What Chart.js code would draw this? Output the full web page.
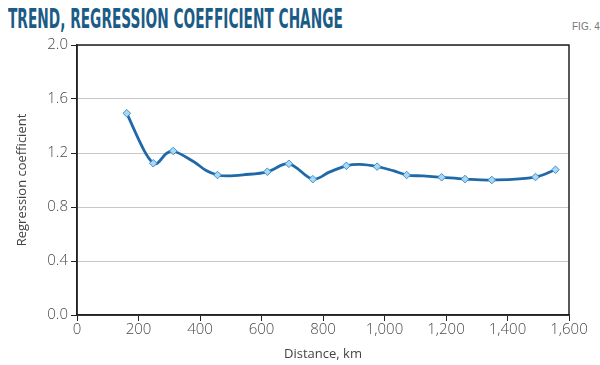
<!DOCTYPE html>
<html>
<head>
<meta charset="utf-8">
<script src="https://cdn.jsdelivr.net/npm/chart.js@4.4.0/dist/chart.umd.min.js"></script>
<style>
  html, body { margin: 0; padding: 0; background: #fff; }
  #wrap { position: relative; width: 600px; height: 365px; }
  #title {
    position: absolute; left: 8px; top: 3px;
    font-family: "Liberation Sans Narrow", "DejaVu Sans Condensed", sans-serif;
    font-weight: bold; font-size: 27px; color: #1b5c86;
    white-space: nowrap; transform-origin: 0 0;
  }
  #fig {
    position: absolute; left: 572px; top: 21px;
    font-family: "Liberation Sans Narrow", sans-serif;
    font-size: 10px; color: #777;
  }
  canvas { position: absolute; left: 0; top: 0; }
</style>
</head>
<body>
<div id="wrap">
  <div id="title">TREND, REGRESSION COEFFICIENT CHANGE</div>
  <div id="fig">FIG. 4</div>
  <canvas id="myChart" width="600" height="365"></canvas>
</div>
<script>
// marked readings (diamonds)
const markerDistance = [162, 248, 313, 457, 619, 689, 767, 876, 976, 1072, 1186, 1262, 1349, 1491, 1556];
const markerValue = [1.494, 1.124, 1.215, 1.037, 1.061, 1.12, 1.006, 1.105, 1.099, 1.037, 1.02, 1.007, 1.0, 1.022, 1.076];

// smoothed trend curve
const curveDistance = [162, 218, 248, 262, 290, 313, 380, 420, 457, 490, 540, 619, 689, 767, 822, 876, 920, 976, 1028, 1072, 1125, 1186, 1262, 1349, 1491, 1556];
const curveValue = [1.494, 1.22, 1.124, 1.125, 1.195, 1.215, 1.135, 1.07, 1.037, 1.03, 1.038, 1.061, 1.12, 1.006, 1.06, 1.105, 1.115, 1.099, 1.069, 1.037, 1.03, 1.02, 1.007, 1.0, 1.022, 1.076];

const xTicks = [0, 200, 400, 600, 800, 1000, 1200, 1400, 1600];
const yTicks = [0, 0.4, 0.8, 1.2, 1.6, 2.0];

// squeeze the title to the width it has in the picture
const title = document.getElementById('title');
title.style.transform = 'scaleX(' + (335 / title.offsetWidth) + ')';

const tickFont = { family: '"Open Sans", sans-serif', size: 15, weight: 300 };

const frame = {
  id: 'frame',
  afterDatasetsDraw(chart) {
    const a = chart.chartArea;
    const c = chart.ctx;
    c.save();
    c.strokeStyle = '#222';
    c.lineWidth = 1.5;
    c.strokeRect(a.left, a.top, a.right - a.left, a.bottom - a.top);
    c.restore();
  }
};

const ctx = document.getElementById('myChart');
new Chart(ctx, {
  type: 'scatter',
  data: {
    datasets: [{
      label: 'markers',
      data: markerDistance.map((d, i) => ({ x: d, y: markerValue[i] })),
      showLine: false,
      pointStyle: 'rectRot',
      pointRadius: 3.8,
      backgroundColor: '#a9d8f3',
      borderColor: '#3f8fcd',
      borderWidth: 1,
      order: 0
    }, {
      label: 'trend',
      data: curveDistance.map((d, i) => ({ x: d, y: curveValue[i] })),
      showLine: true,
      tension: 0.35,
      pointRadius: 0,
      borderColor: '#1f69a9',
      borderWidth: 2.8,
      order: 1
    }]
  },
  plugins: [frame],
  options: {
    responsive: false,
    animation: false,
    layout: { padding: { top: 45, right: 31, left: 0, bottom: 0 } },
    plugins: {
      legend: { display: false },
      tooltip: { enabled: false }
    },
    scales: {
      x: {
        type: 'linear',
        min: 0, max: 1600,
        afterBuildTicks: s => { s.ticks = xTicks.map(v => ({ value: v })); },
        afterFit: s => { s.height = 50; },
        border: { color: '#222', width: 1.5 },
        grid: { drawOnChartArea: false, tickColor: '#222', tickLength: 6 },
        ticks: {
          color: '#4a4a4a', font: tickFont, padding: 0, maxRotation: 0,
          callback: v => v.toLocaleString('en-US')
        },
        title: {
          display: true, text: 'Distance, km', color: '#444',
          font: { family: '"Open Sans", sans-serif', size: 13 },
          padding: { top: 0, bottom: 3 }
        }
      },
      y: {
        min: 0, max: 2,
        afterBuildTicks: s => { s.ticks = yTicks.map(v => ({ value: v })); },
        afterFit: s => { s.width = 77; },
        border: { color: '#222', width: 1.5 },
        grid: { color: '#c8c8c8', lineWidth: 1, tickColor: '#222', tickLength: 6 },
        ticks: {
          color: '#4a4a4a', font: tickFont, padding: 3,
          callback: v => v.toFixed(1)
        },
        title: {
          display: true, text: 'Regression coefficient', color: '#444',
          font: { family: '"Open Sans", sans-serif', size: 13 },
          padding: { top: 14, bottom: 0 }
        }
      }
    }
  }
});
</script>
</body>
</html>
